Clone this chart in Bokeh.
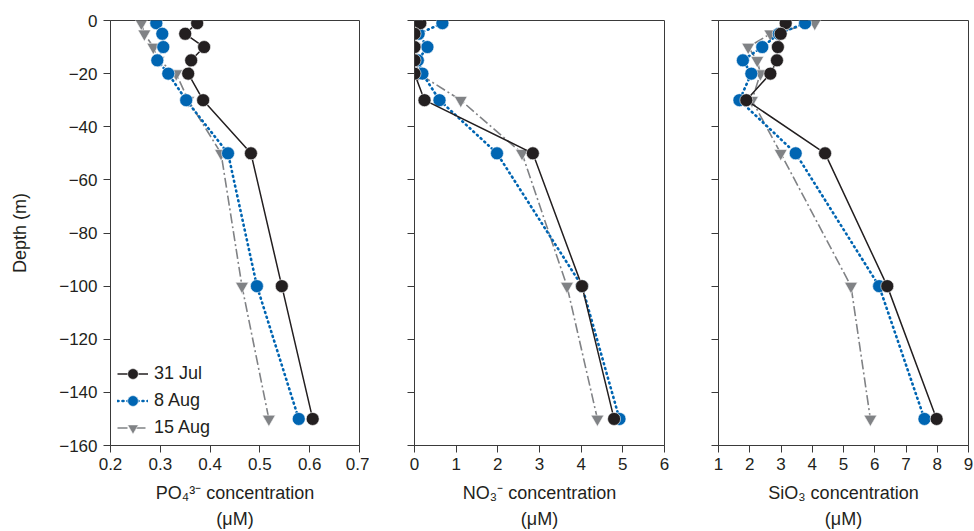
from bokeh.plotting import figure
from bokeh.layouts import row
from bokeh.models import Range1d, FixedTicker, Legend, LegendItem
from bokeh.embed import file_html
from bokeh.resources import INLINE

# ---- data ----
depth = [-1, -5, -10, -15, -20, -30, -50, -100, -150]

po4_jul31 = [0.374, 0.350, 0.388, 0.362, 0.356, 0.386, 0.482, 0.544, 0.606]
po4_aug8 = [0.292, 0.304, 0.306, 0.294, 0.316, 0.352, 0.436, 0.494, 0.578]
po4_aug15 = [0.262, 0.268, 0.286, 0.296, 0.332, 0.356, 0.422, 0.464, 0.518]

no3_jul31 = [0.14, 0.0, 0.0, 0.0, 0.0, 0.24, 2.84, 4.02, 4.79]
no3_aug8 = [0.67, 0.10, 0.31, 0.08, 0.19, 0.60, 1.98, 4.02, 4.92]
no3_aug15 = [0.05, 0.02, 0.02, 0.03, 0.10, 1.11, 2.58, 3.66, 4.39]

sio3_jul31 = [3.15, 2.99, 2.90, 2.87, 2.66, 1.89, 4.41, 6.40, 7.98]
sio3_aug8 = [3.77, 2.93, 2.40, 1.78, 2.05, 1.67, 3.47, 6.14, 7.59]
sio3_aug15 = [4.08, 2.66, 1.95, 2.24, 2.34, 2.07, 2.99, 5.24, 5.86]

series_labels = ["31 Jul", "8 Aug", "15 Aug"]

y_ticks = [0, -20, -40, -60, -80, -100, -120, -140, -160]
y_tick_labels = ["0", "\u221220", "\u221240", "\u221260", "\u221280",
                 "\u2212100", "\u2212120", "\u2212140", "\u2212160"]

po4_ticks = [0.2, 0.3, 0.4, 0.5, 0.6, 0.7]
no3_ticks = [0, 1, 2, 3, 4, 5, 6]
sio3_ticks = [1, 2, 3, 4, 5, 6, 7, 8, 9]

po4_label = "PO\u2084\u00b3\u207b concentration\n(\u03bcM)"
no3_label = "NO\u2083\u207b concentration\n(\u03bcM)"
sio3_label = "SiO\u2083 concentration\n(\u03bcM)"
y_label = "Depth (m)"

# ---- style ----
BLACK = "#231f20"
BLUE = "#0065b2"
GRAY = "#808285"
AXIS = "#3a3a3a"
FONT = "Liberation Sans"

H = 531
TOP = 20
BOTTOM = 84


def make_fig(xr, xticks, xlabel, series, width, left, right, show_y):
    p = figure(width=width, height=H, x_range=Range1d(*xr), y_range=Range1d(-160, 0),
               output_backend="svg", toolbar_location=None,
               min_border_left=left, min_border_right=right,
               min_border_top=TOP, min_border_bottom=BOTTOM)
    p.grid.visible = False
    p.outline_line_color = AXIS
    p.outline_line_width = 1
    p.background_fill_color = "white"
    p.border_fill_color = "white"

    p.xaxis.ticker = FixedTicker(ticks=xticks)
    p.yaxis.ticker = FixedTicker(ticks=y_ticks)
    for ax in (p.xaxis, p.yaxis):
        ax.minor_tick_line_color = None
        ax.major_tick_in = 0
        ax.major_tick_out = 7
        ax.axis_line_color = AXIS
        ax.major_tick_line_color = AXIS
        ax.major_label_text_font = FONT
        ax.major_label_text_font_size = "17px"
        ax.major_label_text_color = "#231f20"
        ax.axis_label_text_font = FONT
        ax.axis_label_text_font_size = "18px"
        ax.axis_label_text_font_style = "normal"
        ax.axis_label_text_color = "#231f20"

    p.xaxis.axis_label = xlabel
    p.xaxis.major_label_standoff = 5
    p.xaxis.axis_label_standoff = 10
    p.xaxis.axis_label_text_line_height = 1.3

    if show_y:
        p.yaxis.major_label_overrides = {t: s for t, s in zip(y_ticks, y_tick_labels)}
        p.yaxis.axis_label = y_label
        p.yaxis.major_label_standoff = 6
        p.yaxis.axis_label_standoff = 26
    else:
        p.yaxis.major_label_overrides = {t: "" for t in y_ticks}

    vals_jul, vals_a8, vals_a15 = series
    # draw back-to-front: 15 Aug, 8 Aug, 31 Jul
    l3 = p.line(vals_a15, depth, line_color=GRAY, line_width=1.6, line_dash="10 3 2 3")
    m3 = p.scatter(vals_a15, depth, marker="inverted_triangle", size=13,
                   fill_color=GRAY, line_color="white", line_width=0.6)
    l2 = p.line(vals_a8, depth, line_color=BLUE, line_width=2.6, line_dash="1 4",
                line_cap="round")
    m2 = p.scatter(vals_a8, depth, marker="circle", size=13,
                   fill_color=BLUE, line_color="white", line_width=0.6)
    l1 = p.line(vals_jul, depth, line_color=BLACK, line_width=1.5)
    m1 = p.scatter(vals_jul, depth, marker="circle", size=13,
                   fill_color=BLACK, line_color="white", line_width=0.6)
    return p, [(l1, m1), (l2, m2), (l3, m3)]


p1, r1 = make_fig((0.2, 0.7), po4_ticks, po4_label,
                  (po4_jul31, po4_aug8, po4_aug15), 110 + 249 + 10, 110, 10, True)
p2, _ = make_fig((0, 6), no3_ticks, no3_label,
                 (no3_jul31, no3_aug8, no3_aug15), 45 + 250 + 10, 45, 10, False)
p3, _ = make_fig((1, 9), sio3_ticks, sio3_label,
                 (sio3_jul31, sio3_aug8, sio3_aug15), 44 + 250 + 6, 44, 6, False)

items = [LegendItem(label=lab, renderers=list(rs)) for lab, rs in zip(series_labels, r1)]
legend = Legend(items=items, location=(7, 4), background_fill_alpha=0,
                border_line_color=None, padding=0, margin=0, spacing=0,
                glyph_width=31, glyph_height=27, label_height=20, label_standoff=6,
                label_text_font=FONT, label_text_font_size="18px",
                label_text_color="#231f20")
p1.add_layout(legend, "center")

layout = row(p1, p2, p3)

open("out.html", "w").write(file_html(layout, INLINE))
